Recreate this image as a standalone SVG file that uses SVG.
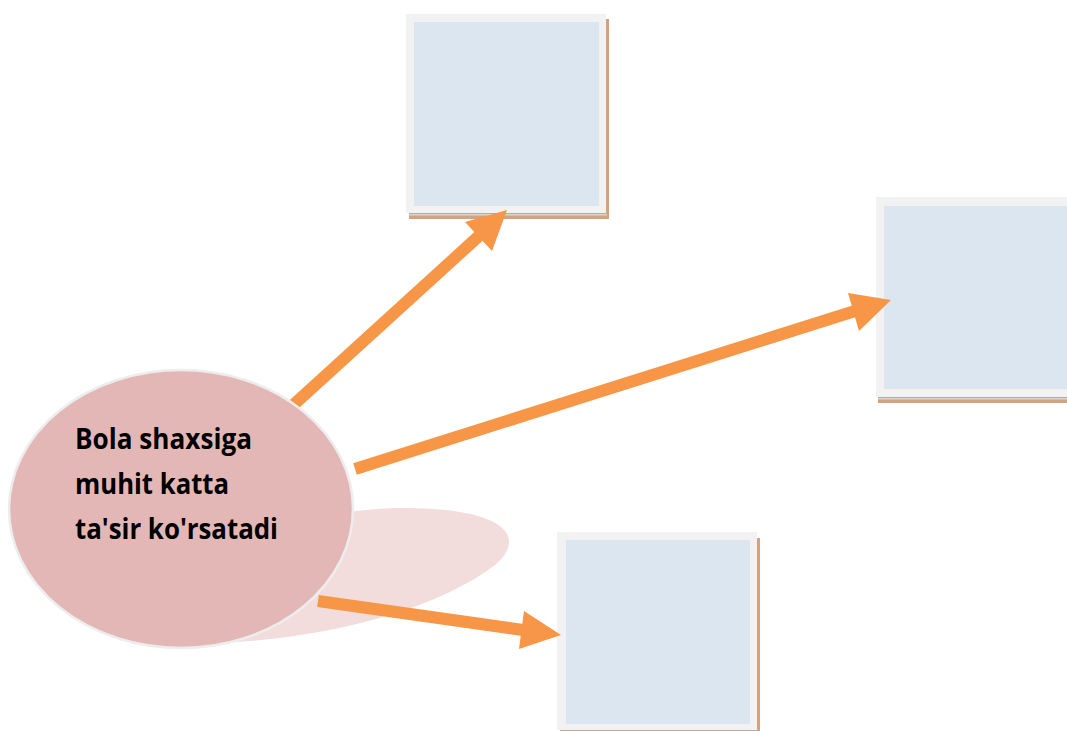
<svg xmlns="http://www.w3.org/2000/svg" width="1067" height="731" viewBox="0 0 1067 731">
<style>
.shadow{fill:#d3a27f}
.frame{fill:#f2f2f2}
.inner{fill:#dce6f1}
.shaft{stroke:#f79646;stroke-width:12;fill:none;stroke-linecap:butt}
.head{fill:#f79646}
.lbl{font-family:"Open Sans","Noto Sans","Liberation Sans",sans-serif;font-weight:bold;font-size:28px;fill:#000}
</style>
<rect width="1067" height="731" fill="#ffffff"/>
<g id="box-top">
<rect class="shadow" x="409" y="19" width="200" height="200"/>
<rect x="409" y="214" width="198" height="1.5" fill="#e8d2c0"/>
<rect class="frame" x="406" y="14" width="200" height="199"/>
<rect class="inner" x="414" y="22" width="185" height="184"/>
</g>
<g id="box-right">
<rect class="shadow" x="878" y="202" width="200" height="201"/>
<rect x="878" y="398" width="200" height="1.5" fill="#e8d2c0"/>
<rect class="frame" x="876" y="197" width="200" height="200"/>
<rect class="inner" x="884" y="206" width="190" height="183"/>
</g>
<g id="box-bottom">
<rect class="shadow" x="560" y="538" width="200" height="200"/>
<rect class="frame" x="557" y="532" width="200" height="198"/>
<rect class="inner" x="566" y="540" width="184" height="184"/>
</g>
<g id="connectors">
<line class="shaft" x1="290" y1="408" x2="480" y2="235"/>
<polygon class="head" points="507,210 465,222 492,251"/>
<line class="shaft" x1="355" y1="469" x2="855" y2="311"/>
<polygon class="head" points="891,300 848,293 859,331"/>
</g>
<g id="center">
<path d="M 120 640 C 260 655, 420 622, 495 565 C 530 535, 500 507, 400 508 C 360 509, 330 514, 300 520 Z" fill="#f2dcdc"/>
<g id="connector-3">
<line class="shaft" x1="318" y1="601" x2="523" y2="630"/>
<polygon class="head" points="561,635 524,611 519,649"/>
</g>
<ellipse cx="181" cy="509" rx="172" ry="139" fill="#e4b7b7" stroke="#ededed" stroke-width="2.5"/>
<text class="lbl" x="75" y="449" textLength="177" lengthAdjust="spacingAndGlyphs">Bola shaxsiga</text>
<text class="lbl" x="75" y="494" textLength="154" lengthAdjust="spacingAndGlyphs">muhit katta</text>
<text class="lbl" x="75" y="539" textLength="203" lengthAdjust="spacingAndGlyphs">ta'sir ko'rsatadi</text>
</g>
</svg>
